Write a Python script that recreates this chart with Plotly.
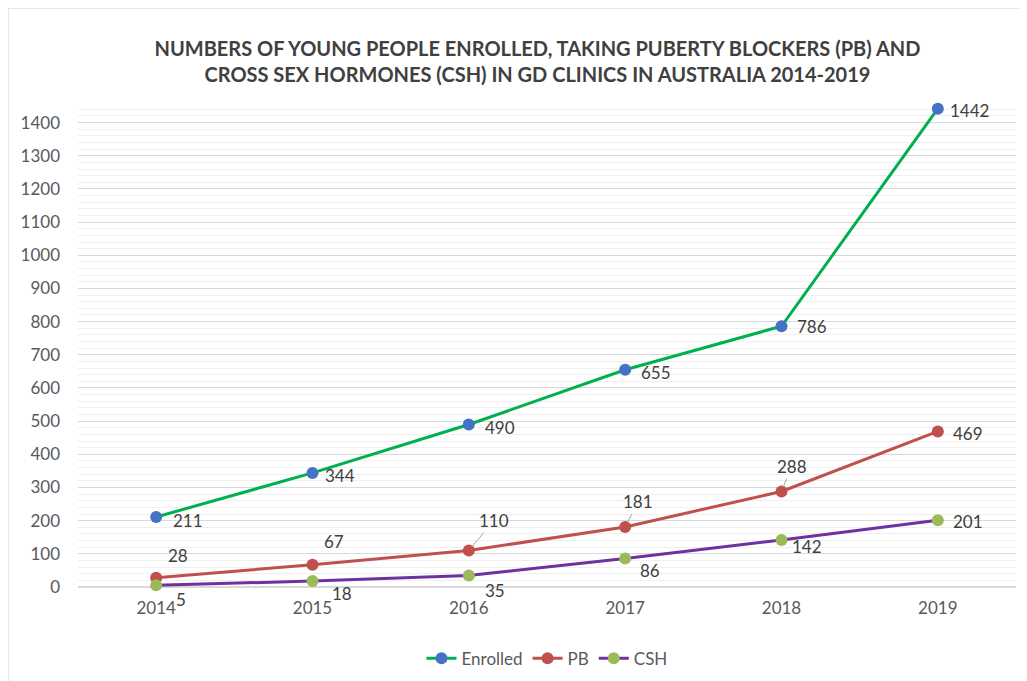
"""Young people in GD clinics, Australia 2014-2019."""

import plotly.graph_objects as go

YEARS = ["2014", "2015", "2016", "2017", "2018", "2019"]
ENROLLED = [211, 344, 490, 655, 786, 1442]
PB = [28, 67, 110, 181, 288, 469]
CSH = [5, 18, 35, 86, 142, 201]

# label offsets in pixels (dx, dy) relative to each marker, and whether a leader line is drawn
ENROLLED_OFF = [(32, 3), (27, 3), (31, 3), (31, 3), (30, 0), (32, 2)]
PB_OFF = [(22, -22), (21, -23), (25, -30), (13, -25), (10, -25), (30, 2)]
PB_LEAD = [False, False, True, True, True, False]
CSH_OFF = [(25, 14), (29, 12), (26, 15), (25, 12), (25, 7), (30, 1)]

FONT = "Lato, Carlito, Calibri, Arial"
LABEL_FONT = dict(family=FONT, size=17, color="#404040")

fig = go.Figure()
series = [
    ("Enrolled", ENROLLED, "#00b050", "#4472c4", ENROLLED_OFF, None),
    ("PB", PB, "#c0504d", "#c0504d", PB_OFF, PB_LEAD),
    ("CSH", CSH, "#7030a0", "#9bbb59", CSH_OFF, None),
]
for name, vals, line_c, mark_c, offs, leads in series:
    fig.add_trace(go.Scatter(
        x=YEARS, y=vals, name=name, mode="lines+markers",
        line=dict(color=line_c, width=3),
        marker=dict(color=mark_c, size=12),
        cliponaxis=False,
    ))
    for i, (v, (dx, dy)) in enumerate(zip(vals, offs)):
        if leads and leads[i]:
            fig.add_annotation(x=i, y=v, text=str(v), showarrow=True, ax=dx, ay=dy,
                               arrowhead=0, arrowwidth=1, arrowcolor="#a6a6a6", standoff=5,
                               font=LABEL_FONT)
        else:
            fig.add_annotation(x=i, y=v, text=str(v), showarrow=False,
                               xshift=dx, yshift=-dy, font=LABEL_FONT)

fig.update_layout(
    width=1019, height=673,
    paper_bgcolor="white", plot_bgcolor="white",
    margin=dict(l=70, r=11, t=98, b=94),
    title=dict(
        text="<b>NUMBERS OF YOUNG PEOPLE ENROLLED, TAKING PUBERTY BLOCKERS (PB) AND<br>"
             "CROSS SEX HORMONES (CSH) IN GD CLINICS IN AUSTRALIA 2014-2019</b>",
        x=0.5196, xanchor="center", y=0.929, yanchor="middle",
        font=dict(family=FONT, size=20, color="#404040"),
    ),
    legend=dict(orientation="h", x=0.5, xanchor="center", yref="container", y=0.033,
                yanchor="middle", font=dict(family=FONT, size=17, color="#595959")),
    font=dict(family=FONT, size=17, color="#595959"),
    shapes=[dict(type="rect", xref="paper", yref="paper", x0=-0.0746, x1=1.3, y0=-0.4, y1=1.2037,
                 line=dict(color="#e6e6e6", width=2))],
)
fig.update_xaxes(type="category", range=[-0.5, 5.5], showgrid=False, showline=False,
                 ticks="", tickfont=dict(size=17, color="#595959"), ticklabelstandoff=9)
fig.update_yaxes(range=[0, 1450], dtick=100, showgrid=True, gridcolor="#d9d9d9", gridwidth=1,
                 minor=dict(dtick=20, showgrid=True, gridcolor="#efefef", gridwidth=1),
                 zeroline=True, zerolinecolor="#d9d9d9", showline=False,
                 tickfont=dict(size=17, color="#595959"), ticklabelstandoff=17)

fig.write_html("out.html")
